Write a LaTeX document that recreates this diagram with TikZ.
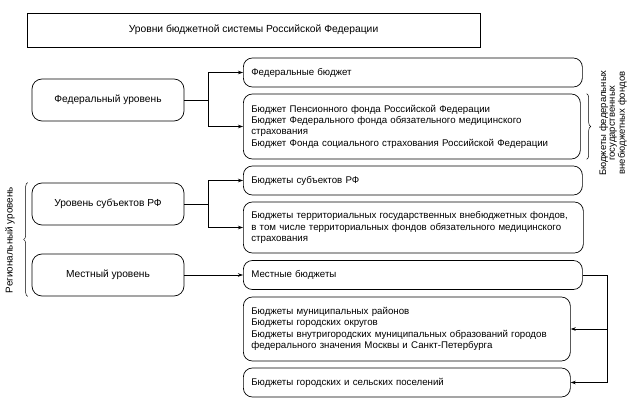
\documentclass[tikz,border=0pt]{standalone}
\usepackage{fontspec}
\setmainfont{Liberation Sans}
\usetikzlibrary{arrows.meta,decorations.pathreplacing}
\tikzset{
  lvlbox/.style={draw, rounded corners=10pt, minimum width=152pt, minimum height=42pt, inner sep=0pt, font=\fontsize{10.2}{12}\selectfont},
  budbox/.style={draw, rounded corners=9pt, anchor=west, inner xsep=8pt, inner ysep=0pt, align=left, font=\fontsize{9.7}{11.3}\selectfont},
  arr/.style={-{Stealth[length=5pt,width=3.5pt]}},
  brc/.style={decorate, decoration={brace, amplitude=4pt}, line width=0.5pt},
}
\begin{document}
\begin{tikzpicture}[x=1pt,y=-1pt,line width=0.7pt]
\useasboundingbox (0,0) rectangle (634,406);

% Text Node
\node[draw, minimum width=453pt, minimum height=34pt, font=\fontsize{10.3}{12}\selectfont] (title) at (253.5,30) {Уровни бюджетной системы Российской Федерации};

%Levels
\node[lvlbox] (fed) at (108,100) {Федеральный уровень};
\node[lvlbox] (subj) at (108,204) {Уровень субъектов РФ};
\node[lvlbox] (mest) at (108,275) {Местный уровень};

%Budgets
\node[budbox, text width=323pt, minimum height=29pt] (fb) at (243,72.5) {Федеральные бюджет};
\node[budbox, text width=321pt, minimum height=65pt] (fond) at (243,126.5) {Бюджет Пенсионного фонда Российской Федерации\\Бюджет Федерального фонда обязательного медицинского\\страхования\\Бюджет Фонда социального страхования Российской Федерации};
\node[budbox, text width=323pt, minimum height=29pt] (sb) at (243,180.5) {Бюджеты субъектов РФ};
\node[budbox, text width=324pt, minimum height=51pt] (terr) at (243,227.5) {Бюджеты территориальных государственных внебюджетных фондов,\\в том числе территориальных фондов обязательного медицинского\\страхования};
\node[budbox, text width=323pt, minimum height=29pt] (mb) at (243,275) {Местные бюджеты};
\node[budbox, text width=311pt, minimum height=64pt] (mr) at (243,329) {Бюджеты муниципальных районов\\Бюджеты городских округов\\Бюджеты внутригородских муниципальных образований городов\\федерального значения Москвы и Санкт-Петербурга};
\node[budbox, text width=311pt, minimum height=29pt] (gp) at (243,382.5) {Бюджеты городских и сельских поселений};

%Connectors
\coordinate (fedj) at (208,100);
\draw (fed.east) -- (fedj);
\draw[arr] (fedj) |- (fb.west);
\draw[arr] (fedj) |- (fond.west);

\coordinate (subjj) at (208,204);
\draw (subj.east) -- (subjj);
\draw[arr] (subjj) |- (sb.west);
\draw[arr] (subjj) |- (terr.west);

\draw[arr] (mest.east) -- (mb.west);

\coordinate (locj) at (607,275);
\coordinate (locb) at (607,382.5);
\draw (mb.east) -- (locj) -- (locb);
\draw[arr] (locj |- mr.east) -- (mr.east);
\draw[arr] (locb) -- (gp.east);

%Braces
\draw[brc] ([xshift=-4pt]mest.south west) -- ([xshift=-4pt]subj.north west);
\draw[brc] ([xshift=6pt]fond.north east) -- ([xshift=6pt]fond.south east);

% Text Node
\node[rotate=90, font=\fontsize{9.9}{11}\selectfont] (reg) at (10,240) {Региональный уровень};
% Text Node
\node[rotate=90, align=center, font=\fontsize{9.5}{8.8}\selectfont] (vnb) at (613,123) {Бюджеты федеральных\\государственных\\внебюджетных фондов};

\end{tikzpicture}
\end{document}
